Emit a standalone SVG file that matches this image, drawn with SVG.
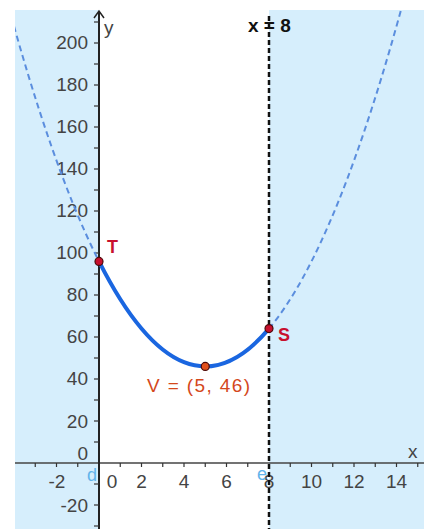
<svg xmlns="http://www.w3.org/2000/svg" width="424" height="529" viewBox="0 0 424 529">
<style>
.tick{stroke:#333;stroke-width:1.2}
.lbl{font-family:"Liberation Sans",Arial,sans-serif;font-size:19px;fill:#444}
.ylbl{text-anchor:end}
.xlbl{text-anchor:middle}
.pt{stroke:#4a0a0a;stroke-width:1.2}
.ptlbl{font-family:"Liberation Sans",Arial,sans-serif;font-size:18px;font-weight:bold;fill:#c8102e}
.dash{fill:none;stroke:#5b8ede;stroke-width:2;stroke-dasharray:6 4}
</style>
<defs>
<clipPath id="plot"><rect x="15" y="10" width="409" height="519"/></clipPath>
</defs>
<rect width="424" height="529" fill="#fff"/>
<g id="regions">
<rect x="15" y="10" width="84" height="519" fill="#d6eefc"/>
<rect x="269" y="10" width="155" height="519" fill="#d6eefc"/>
</g>
<g id="axes">
<line x1="15" y1="463" x2="424" y2="463" stroke="#444" stroke-width="1.5"/>
<line x1="99" y1="11" x2="99" y2="529" stroke="#222" stroke-width="2"/>
<polyline points="94,18 99,11 104,18" fill="none" stroke="#222" stroke-width="1.5"/>
<g class="tick">
<line x1="35.25" y1="463" x2="35.25" y2="467"/>
<line x1="56.5" y1="463" x2="56.5" y2="467"/>
<line x1="77.75" y1="463" x2="77.75" y2="467"/>
<line x1="120.25" y1="463" x2="120.25" y2="467"/>
<line x1="141.5" y1="463" x2="141.5" y2="467"/>
<line x1="162.75" y1="463" x2="162.75" y2="467"/>
<line x1="184" y1="463" x2="184" y2="467"/>
<line x1="205.25" y1="463" x2="205.25" y2="467"/>
<line x1="226.5" y1="463" x2="226.5" y2="467"/>
<line x1="247.75" y1="463" x2="247.75" y2="467"/>
<line x1="290.25" y1="463" x2="290.25" y2="467"/>
<line x1="311.5" y1="463" x2="311.5" y2="467"/>
<line x1="332.75" y1="463" x2="332.75" y2="467"/>
<line x1="354" y1="463" x2="354" y2="467"/>
<line x1="375.25" y1="463" x2="375.25" y2="467"/>
<line x1="396.5" y1="463" x2="396.5" y2="467"/>
<line x1="417.75" y1="463" x2="417.75" y2="467"/>
<line x1="94" y1="526" x2="99" y2="526"/>
<line x1="94" y1="505" x2="99" y2="505"/>
<line x1="94" y1="484" x2="99" y2="484"/>
<line x1="94" y1="442" x2="99" y2="442"/>
<line x1="94" y1="421" x2="99" y2="421"/>
<line x1="94" y1="400" x2="99" y2="400"/>
<line x1="94" y1="379" x2="99" y2="379"/>
<line x1="94" y1="358" x2="99" y2="358"/>
<line x1="94" y1="337" x2="99" y2="337"/>
<line x1="94" y1="316" x2="99" y2="316"/>
<line x1="94" y1="295" x2="99" y2="295"/>
<line x1="94" y1="274" x2="99" y2="274"/>
<line x1="94" y1="253" x2="99" y2="253"/>
<line x1="94" y1="232" x2="99" y2="232"/>
<line x1="94" y1="211" x2="99" y2="211"/>
<line x1="94" y1="190" x2="99" y2="190"/>
<line x1="94" y1="169" x2="99" y2="169"/>
<line x1="94" y1="148" x2="99" y2="148"/>
<line x1="94" y1="127" x2="99" y2="127"/>
<line x1="94" y1="106" x2="99" y2="106"/>
<line x1="94" y1="85" x2="99" y2="85"/>
<line x1="94" y1="64" x2="99" y2="64"/>
<line x1="94" y1="43" x2="99" y2="43"/>
<line x1="94" y1="22" x2="99" y2="22"/>
</g>
<g class="lbl ylbl">
<text x="88" y="49">200</text>
<text x="88" y="91">180</text>
<text x="88" y="133">160</text>
<text x="88" y="175">140</text>
<text x="88" y="217">120</text>
<text x="88" y="259">100</text>
<text x="88" y="301">80</text>
<text x="88" y="343">60</text>
<text x="88" y="385">40</text>
<text x="88" y="428">20</text>
<text x="88" y="460">0</text>
<text x="88" y="512">-20</text>
</g>
<g class="lbl xlbl">
<text x="57" y="488">-2</text>
<text x="112" y="488">0</text>
<text x="141.5" y="488">2</text>
<text x="184" y="488">4</text>
<text x="226.5" y="488">6</text>
<text x="269" y="488">8</text>
<text x="311.5" y="488">10</text>
<text x="354" y="488">12</text>
<text x="396.5" y="488">14</text>
</g>
<text class="lbl" x="408" y="458">x</text>
<text class="lbl" x="104" y="34">y</text>
<text x="87" y="481" font-family="Liberation Sans, Arial, sans-serif" font-size="18" fill="#62b4ea">d</text>
<text x="257" y="480" font-family="Liberation Sans, Arial, sans-serif" font-size="18" fill="#62b4ea">e</text>
</g>
<g id="connectors" clip-path="url(#plot)">
<path class="dash" d="M3.375,-12.65 Q51.1875,166.9 99,261.4"/>
<path class="dash" d="M269,328.6 Q338.0625,246.7 407.125,-12.65"/>
<path d="M99,261.4 Q184,429.4 269,328.6" fill="none" stroke="#1a66e0" stroke-width="4"/>
</g>
<g id="line-x8">
<line x1="269" y1="16" x2="269" y2="529" stroke="#111" stroke-width="2.5" stroke-dasharray="5 3"/>
<text x="248" y="32" font-family="Liberation Sans, Arial, sans-serif" font-size="19" font-weight="bold" fill="#111">x = 8</text>
</g>
<g id="T">
<circle class="pt" cx="99" cy="261.4" r="4" fill="#c8102e"/>
<text class="ptlbl" x="107" y="253">T</text>
</g>
<g id="S">
<circle class="pt" cx="269" cy="328.6" r="4" fill="#c8102e"/>
<text class="ptlbl" x="278" y="341">S</text>
</g>
<g id="V">
<circle class="pt" cx="205.25" cy="366.4" r="4" fill="#e0501c"/>
<text x="147" y="392" font-family="Liberation Sans, Arial, sans-serif" font-size="19" fill="#d4481c" textLength="103" lengthAdjust="spacing">V = (5, 46)</text>
</g>
</svg>
